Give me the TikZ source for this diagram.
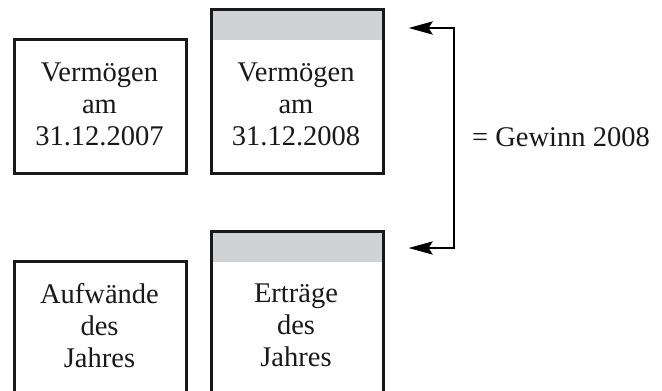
\documentclass[tikz,border=0pt]{standalone}
\usepackage{fontspec}
\setmainfont{Liberation Serif}
\usetikzlibrary{arrows.meta}
\definecolor{bandgrey}{HTML}{D1D2D4}
\begin{document}
\begin{tikzpicture}[x=1pt,y=-1pt,
  box/.style={draw=black!90, line width=2.6pt, minimum width=172pt, inner sep=0pt},
  lbl/.style={align=center, font=\fontsize{28.5}{31.8}\selectfont, inner sep=0pt, text=black!90},
  arr/.style={line width=2.6pt, -{Stealth[length=24pt,width=13pt,inset=4pt]}}]
\useasboundingbox (0,0) rectangle (662,391);
\clip (0,0) rectangle (662,391);
% top row
\node[box, minimum height=134pt, anchor=north west] (b1) at (13,38) {};
\fill[bandgrey] (210,8) rectangle (382,40);
\node[box, minimum height=164pt, anchor=north west] (b2) at (210,8) {};
\node[lbl] (t1) at (99.5,104.5) {Vermögen\\am\\31.12.2007};
\node[lbl] (t2) at (296,104.5) {Vermögen\\am\\31.12.2008};
% bottom row
\node[box, minimum height=134pt, anchor=north west] (b3) at (13,260) {};
\fill[bandgrey] (210,230) rectangle (382,262);
\node[box, minimum height=164pt, anchor=north west] (b4) at (210,230) {};
\node[lbl] (t3) at (99.5,325.5) {Aufwände\\des\\Jahres};
\node[lbl] (t4) at (296,325.5) {Erträge\\des\\Jahres};
% bracket arrows
\coordinate (ctop) at (454,28);
\coordinate (cbot) at (454,248);
\coordinate (atop) at ([xshift=24pt]b2.east |- ctop);
\coordinate (abot) at ([xshift=24pt]b4.east |- cbot);
\draw[line width=2.6pt] (ctop) -- (cbot);
\draw[arr] ([xshift=1.3pt]ctop) -- (atop);
\draw[arr] ([xshift=1.3pt]cbot) -- (abot);
\node[lbl, anchor=west] (g) at (472,137) {= Gewinn 2008};
\end{tikzpicture}
\end{document}
